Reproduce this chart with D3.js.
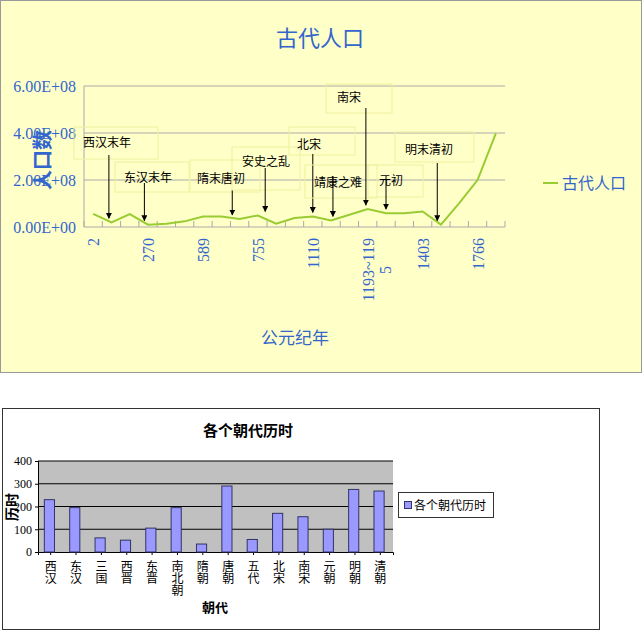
<!DOCTYPE html>
<html><head><meta charset="utf-8">
<script src="https://cdn.jsdelivr.net/npm/d3@7"></script>
<style>body{margin:0;background:#fff}svg{display:block}</style>
</head><body>
<svg id="chart" width="643" height="632"></svg>
<script>
// 古代人口 (line)
const years = ['2','','','270','','','589','','','755','','','1110','','','1193~1195','','','1403','','','1766',''];
const population = [56e6,20e6,55e6,10e6,14e6,24e6,45e6,45e6,34e6,49e6,14e6,38e6,45e6,28e6,52e6,76e6,59e6,59e6,66e6,10e6,102e6,200e6,398e6];
const popTicks = [0, 2e8, 4e8, 6e8];
const popTickLabels = ['0.00E+00','2.00E+08','4.00E+08','6.00E+08'];
const events = ['西汉末年','东汉末年','隋末唐初','安史之乱','北宋','靖康之难','南宋','元初','明末清初'];
const eventIdx = [0.86, 2.8, 7.6, 9.4, 12, 13.1, 14.9, 16, 18.8];

// 各个朝代历时 (bar)
const dynasties = ['西汉','东汉','三国','西晋','东晋','南北朝','隋朝','唐朝','五代','北宋','南宋','元朝','明朝','清朝'];
const durations = [230,195,62,52,105,195,35,290,55,170,155,100,275,268];
const durTicks = [0,100,200,300,400];

const svg = d3.select('#chart');
const blue = '#3366cc', green = '#99cc33';

// ---- top chart
svg.append('rect').attr('x',0.5).attr('y',0.5).attr('width',641).attr('height',372)
  .attr('fill','#ffffc8').attr('stroke','#999');
svg.append('text').attr('x',320).attr('y',46).attr('text-anchor','middle')
  .style('font-family','Noto Sans CJK SC').style('font-size','22px').attr('fill',blue).text('古代人口');

const x = d3.scaleLinear().domain([-0.5, 22.5]).range([84, 505]);
const y = d3.scaleLinear().domain([0, 6e8]).range([227, 86]);

svg.append('g').selectAll('line').data(popTicks.slice(1)).join('line')
  .attr('x1',84).attr('x2',505).attr('y1',d=>y(d)).attr('y2',d=>y(d)).attr('stroke','#aaa');
svg.append('line').attr('x1',84).attr('x2',84).attr('y1',86).attr('y2',227).attr('stroke','#aaa');
svg.append('line').attr('x1',84).attr('x2',505).attr('y1',227).attr('y2',227).attr('stroke','#aaa');
svg.append('g').selectAll('line').data(d3.range(24)).join('line')
  .attr('x1',d=>x(d-0.5)).attr('x2',d=>x(d-0.5)).attr('y1',227).attr('y2',221).attr('stroke','#aaa');

svg.append('g').selectAll('text').data(popTicks).join('text')
  .attr('x',76).attr('y',d=>y(d)+6).attr('text-anchor','end')
  .style('font-family','Liberation Serif').style('font-size','16px').attr('fill',blue)
  .text((d,i)=>popTickLabels[i]);

svg.append('text').attr('transform','translate(50,160) rotate(-90)').attr('text-anchor','middle')
  .style('font-family','Noto Sans CJK SC').style('font-size','20px').style('font-weight','bold')
  .attr('fill',blue).text('人口数');

years.forEach((t,i)=>{
  if(!t) return;
  const g = svg.append('g').attr('transform',`translate(${x(i)+6},238) rotate(-90)`);
  const parts = t.length > 8 ? [t.slice(0,8), t.slice(8)] : [t];
  parts.forEach((p,k)=>g.append('text').attr('x', k ? -parts[0].length*4 : 0).attr('y',k*17)
    .attr('text-anchor', k ? 'middle' : 'end')
    .style('font-family','Liberation Serif').style('font-size','16px').attr('fill',blue).text(p));
});
svg.append('text').attr('x',295).attr('y',344).attr('text-anchor','middle')
  .style('font-family','Noto Sans CJK SC').style('font-size','17px').attr('fill',blue).text('公元纪年');

svg.append('path').datum(population)
  .attr('d', d3.line().x((d,i)=>x(i)).y(d=>y(d)))
  .attr('fill','none').attr('stroke',green).attr('stroke-width',2);

// annotations
const boxes = [[74,127,84,32],[115,162,74,30],[190,160,70,32],[232,147,68,43],[289,127,66,28],[305,165,72,33],[326,84,66,29],[368,165,55,32],[395,132,79,30]];
const labelPos = [[83,147],[124,182],[197,183],[242,166],[297,149],[314,187],[337,102],[379,185],[405,154]];
const arrowTop = [155,183,190,168,154,176,108,176,163];
svg.append('defs').append('marker').attr('id','ah').attr('viewBox','0 0 10 10').attr('refX',9).attr('refY',5)
  .attr('markerWidth',6).attr('markerHeight',6).attr('orient','auto')
  .append('path').attr('d','M0,0L10,5L0,10z').attr('fill','#000');
events.forEach((e,i)=>{
  const b = boxes[i];
  svg.append('rect').attr('x',b[0]).attr('y',b[1]).attr('width',b[2]).attr('height',b[3])
    .attr('fill','none').attr('stroke','#f0f0a0');
  svg.append('text').attr('x',labelPos[i][0]).attr('y',labelPos[i][1])
    .style('font-family','Noto Sans CJK SC').style('font-size','12px').attr('fill','#000').text(e);
  const v = population[Math.round(eventIdx[i])];
  svg.append('line').attr('x1',x(eventIdx[i])).attr('x2',x(eventIdx[i]))
    .attr('y1',arrowTop[i]).attr('y2',y(v)-4).attr('stroke','#000').attr('marker-end','url(#ah)');
});

svg.append('line').attr('x1',543).attr('x2',558).attr('y1',183).attr('y2',183).attr('stroke',green).attr('stroke-width',2);
svg.append('text').attr('x',562).attr('y',189).style('font-family','Noto Sans CJK SC').style('font-size','16px')
  .attr('fill',blue).text('古代人口');

// ---- bottom chart
svg.append('rect').attr('x',2.5).attr('y',408.5).attr('width',597).attr('height',221)
  .attr('fill','#fff').attr('stroke','#333');
svg.append('text').attr('x',248).attr('y',436).attr('text-anchor','middle')
  .style('font-family','Noto Sans CJK SC').style('font-size','15px').style('font-weight','bold').text('各个朝代历时');

const bx = d3.scaleBand().domain(dynasties).range([38, 393]);
const by = d3.scaleLinear().domain([0, 400]).range([552, 461]);
svg.append('rect').attr('x',38).attr('y',461).attr('width',355).attr('height',91).attr('fill','#c0c0c0');
svg.append('g').selectAll('line').data(durTicks.slice(1)).join('line')
  .attr('x1',38).attr('x2',393).attr('y1',d=>by(d)).attr('y2',d=>by(d)).attr('stroke','#000');
svg.append('g').attr('transform','translate(38,0)').call(d3.axisLeft(by).tickValues(durTicks).tickSize(3))
  .call(g=>g.selectAll('text').style('font-family','Liberation Serif').style('font-size','12px'));
svg.append('g').attr('transform','translate(0,552)').call(d3.axisBottom(bx).tickSize(3).tickFormat(''))
  .call(g=>g.select('.domain').attr('stroke','#000'));
svg.append('g').selectAll('rect').data(durations).join('rect')
  .attr('x',(d,i)=>bx(dynasties[i])+bx.bandwidth()*0.25).attr('width',bx.bandwidth()*0.4)
  .attr('y',d=>by(d)).attr('height',d=>552-by(d))
  .attr('fill','#9999ff').attr('stroke','#333366');

svg.append('g').selectAll('text').data(dynasties).join('text')
  .attr('x',d=>bx(d)+bx.bandwidth()/2).attr('y',560)
  .style('writing-mode','vertical-rl').style('text-orientation','upright')
  .style('font-family','Noto Sans CJK SC').style('font-size','12px').text(d=>d);
svg.append('text').attr('x',215).attr('y',612).attr('text-anchor','middle')
  .style('font-family','Noto Sans CJK SC').style('font-size','13px').style('font-weight','bold').text('朝代');
svg.append('text').attr('transform','translate(17,507) rotate(-90)').attr('text-anchor','middle')
  .style('font-family','Noto Sans CJK SC').style('font-size','14px').style('font-weight','bold').text('历时');

svg.append('rect').attr('x',398.5).attr('y',492.5).attr('width',95).attr('height',25).attr('fill','#fff').attr('stroke','#333');
svg.append('rect').attr('x',404.5).attr('y',501.5).attr('width',7).attr('height',7).attr('fill','#9999ff').attr('stroke','#333366');
svg.append('text').attr('x',414).attr('y',510).style('font-family','Noto Sans CJK SC').style('font-size','12px').text('各个朝代历时');
</script>
</body></html>
